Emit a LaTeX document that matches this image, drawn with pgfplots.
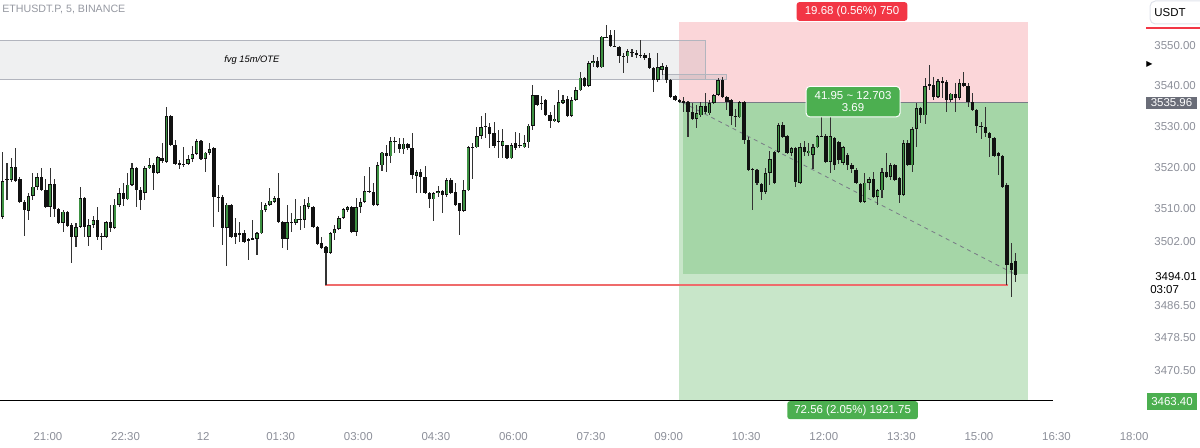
\documentclass[border=0pt]{standalone}
\usepackage{fontspec}
\setmainfont{Liberation Sans}
\newfontfamily\dejavu{DejaVu Sans}
\usepackage{pgfplots}
\usepackage{pgfplotstable}
\pgfplotsset{compat=1.18}
\definecolor{upc}{HTML}{3D9142}
\definecolor{wick}{HTML}{333333}
\definecolor{bodyc}{HTML}{111111}
\definecolor{stopzone}{HTML}{FBD6D9}
\definecolor{tpzone}{HTML}{C8E6C9}
\definecolor{tpfill}{HTML}{A5D6A7}
\definecolor{tvred}{HTML}{F23645}
\definecolor{tvgreen}{HTML}{4CAF50}
\definecolor{tvgray}{HTML}{787B86}
\definecolor{scaletext}{HTML}{8C8F99}
\definecolor{fvgborder}{HTML}{B2B5BE}
\definecolor{fvgfill}{HTML}{9598A1}
\definecolor{hline}{HTML}{EF6B6B}
\definecolor{pricebox}{HTML}{6A6D78}
\definecolor{boxborder}{HTML}{E0E3EB}
\newcommand{\lab}{\fontsize{8.6}{10}\selectfont}

\pgfplotstableread{
k o h l c
1 3508.1 3523.9 3507.6 3516.8
2 3517.3 3521.2 3512.2 3517.2
3 3517.1 3522.4 3516.6 3520.2
4 3520.2 3524.9 3516.6 3516.8
5 3517.3 3517.8 3511.5 3511.7
6 3511.7 3512.2 3503.4 3509.8
7 3509.5 3513.9 3507.3 3513.2
8 3513.2 3518.8 3512.2 3515.4
9 3515.4 3518.8 3514.6 3517.8
10 3517.8 3520.0 3514.4 3514.6
11 3514.6 3517.3 3510.2 3510.5
12 3510.5 3520.0 3508.1 3516.1
13 3516.1 3517.3 3508.1 3510.0
14 3510.0 3510.2 3506.3 3506.6
15 3506.6 3509.8 3504.4 3509.3
16 3509.3 3509.5 3505.6 3505.9
17 3506.1 3506.6 3496.8 3503.2
18 3503.2 3506.6 3500.7 3505.6
19 3505.6 3515.4 3505.4 3512.7
20 3512.7 3512.9 3503.2 3505.6
21 3503.2 3507.6 3501.0 3506.1
22 3506.1 3508.3 3505.4 3507.3
23 3507.3 3510.5 3502.4 3503.2
24 3503.4 3504.1 3500.0 3503.2
25 3503.2 3507.1 3502.9 3506.8
26 3506.8 3511.0 3504.4 3505.4
27 3505.4 3512.4 3505.1 3511.0
28 3511.0 3515.1 3510.5 3513.9
29 3513.9 3516.4 3510.7 3512.4
30 3512.4 3518.8 3512.2 3515.9
31 3515.9 3521.2 3515.6 3520.0
32 3520.0 3520.2 3510.5 3514.6
33 3514.6 3515.4 3509.8 3512.2
34 3513.9 3520.5 3512.2 3520.0
35 3520.0 3522.4 3519.8 3520.7
36 3520.7 3521.2 3514.6 3518.8
37 3518.8 3522.9 3518.5 3522.7
38 3522.4 3526.1 3521.2 3521.7
39 3521.5 3534.9 3521.2 3532.7
40 3532.7 3532.9 3525.4 3525.6
41 3525.6 3526.8 3520.7 3521.0
42 3521.2 3522.0 3519.8 3521.0
43 3521.0 3525.1 3520.2 3520.8
44 3521.0 3523.2 3520.7 3522.2
45 3522.2 3525.4 3521.5 3523.4
46 3523.4 3527.1 3523.2 3526.6
47 3526.6 3526.8 3522.0 3522.2
48 3522.2 3523.9 3519.0 3523.7
49 3523.7 3526.1 3523.2 3524.6
50 3524.9 3525.1 3505.6 3512.9
51 3512.9 3515.9 3509.3 3512.8
52 3512.9 3513.4 3501.2 3505.4
53 3505.4 3511.5 3496.1 3511.0
54 3511.0 3511.2 3502.9 3503.2
55 3504.1 3507.8 3501.5 3503.2
56 3503.9 3506.8 3502.0 3504.1
57 3504.1 3504.9 3501.7 3502.0
58 3502.7 3502.9 3497.6 3502.4
59 3502.7 3507.3 3502.4 3502.9
60 3502.7 3504.4 3498.8 3504.1
61 3504.1 3511.7 3503.9 3509.8
62 3509.8 3511.5 3509.3 3511.0
63 3511.0 3515.1 3510.7 3512.0
64 3511.7 3513.2 3511.5 3512.7
65 3512.7 3518.8 3506.6 3506.8
66 3506.8 3507.1 3500.5 3502.7
67 3502.7 3511.0 3500.0 3506.8
68 3506.8 3509.0 3504.4 3506.7
69 3506.6 3512.4 3506.1 3507.6
70 3507.6 3510.7 3504.9 3507.4
71 3507.3 3512.4 3505.4 3511.0
72 3510.5 3512.9 3510.0 3511.5
73 3510.5 3510.7 3505.4 3505.6
74 3505.6 3505.9 3501.2 3501.5
75 3501.7 3503.2 3500.2 3500.5
76 3500.7 3501.0 3491.5 3499.3
77 3499.3 3504.4 3499.0 3504.1
78 3504.1 3506.1 3502.4 3505.1
79 3505.1 3508.3 3504.9 3507.8
80 3507.8 3510.2 3507.6 3510.0
81 3509.8 3510.7 3509.3 3510.5
82 3510.5 3510.7 3504.1 3504.4
83 3504.4 3512.7 3503.4 3510.5
84 3510.5 3512.7 3509.0 3511.7
85 3511.7 3518.1 3511.5 3514.4
86 3514.4 3520.2 3513.9 3514.2
87 3514.2 3516.4 3510.7 3511.0
88 3511.0 3521.5 3510.7 3520.7
89 3520.7 3523.9 3519.3 3523.7
90 3523.7 3525.6 3519.0 3522.9
91 3522.9 3527.6 3521.2 3526.6
92 3526.6 3527.6 3523.7 3526.5
93 3525.9 3527.3 3523.7 3524.6
94 3524.6 3527.3 3523.4 3525.9
95 3525.9 3526.1 3524.4 3524.9
96 3524.9 3528.5 3517.3 3518.3
97 3518.1 3519.5 3513.9 3519.0
98 3519.0 3519.8 3513.9 3517.8
99 3517.8 3520.5 3513.7 3513.9
100 3513.9 3514.2 3510.2 3512.4
101 3512.4 3514.2 3507.1 3513.9
102 3513.9 3515.6 3512.9 3514.4
103 3514.4 3514.6 3509.0 3513.4
104 3513.4 3517.6 3512.9 3517.1
105 3517.1 3517.6 3513.7 3513.9
106 3514.2 3516.4 3510.7 3511.0
107 3511.5 3511.5 3503.7 3509.5
108 3509.5 3517.1 3509.3 3514.6
109 3514.6 3525.4 3514.4 3525.1
110 3525.1 3526.1 3517.3 3525.0
111 3525.1 3530.0 3524.9 3527.8
112 3527.8 3532.7 3527.1 3530.0
113 3530.3 3533.4 3527.3 3530.1
114 3530.0 3531.0 3524.9 3528.3
115 3528.5 3531.2 3524.9 3525.4
116 3526.6 3529.3 3522.4 3526.5
117 3525.4 3529.5 3522.4 3526.6
118 3525.6 3525.6 3522.2 3522.4
119 3522.4 3526.1 3522.2 3525.6
120 3526.1 3528.8 3524.4 3524.9
121 3525.6 3528.5 3524.9 3525.5
122 3525.1 3528.0 3524.9 3526.1
123 3526.3 3530.7 3524.9 3530.3
124 3530.3 3540.2 3529.3 3537.8
125 3537.8 3537.8 3535.1 3535.4
126 3535.9 3537.6 3534.1 3535.7
127 3536.6 3536.8 3532.7 3532.9
128 3532.9 3533.7 3529.8 3531.5
129 3531.5 3535.4 3531.2 3532.0
130 3531.2 3539.0 3531.0 3536.1
131 3535.9 3537.8 3535.6 3536.6
132 3536.8 3537.6 3532.4 3532.7
133 3532.7 3537.3 3532.4 3536.6
134 3536.6 3539.8 3536.3 3539.0
135 3539.0 3543.4 3538.8 3542.0
136 3542.0 3542.2 3539.8 3540.0
137 3540.0 3546.1 3539.8 3545.6
138 3545.6 3547.6 3544.6 3546.1
139 3546.1 3547.1 3544.4 3544.6
140 3544.6 3552.2 3544.4 3552.0
141 3552.0 3554.9 3551.7 3551.8
142 3552.4 3553.7 3549.5 3549.8
143 3549.8 3553.7 3549.5 3549.6
144 3549.5 3549.8 3545.6 3547.3
145 3547.3 3548.0 3543.2 3547.2
146 3547.3 3549.0 3545.6 3548.5
147 3548.2 3549.0 3547.1 3548.3
148 3548.0 3548.8 3546.8 3547.6
149 3547.6 3551.2 3546.8 3547.4
150 3547.6 3548.0 3546.3 3546.8
151 3546.8 3548.0 3544.1 3544.4
152 3544.4 3544.6 3538.5 3541.5
153 3541.5 3548.0 3541.0 3544.6
154 3543.9 3545.6 3542.7 3544.9
155 3544.6 3545.1 3540.7 3541.5
156 3541.5 3541.7 3537.2 3537.3
157 3537.6 3537.8 3536.3 3536.6
158 3536.6 3536.8 3535.9 3536.1
159 3536.3 3537.3 3533.7 3535.9
160 3536.1 3536.3 3527.6 3533.7
161 3533.7 3535.9 3531.7 3532.0
162 3532.0 3535.4 3529.8 3533.4
163 3532.9 3536.1 3532.4 3535.1
164 3535.1 3538.3 3533.2 3533.7
165 3533.4 3536.6 3532.9 3535.9
166 3535.9 3538.1 3535.6 3537.8
167 3537.8 3542.0 3537.6 3541.5
168 3541.5 3542.2 3537.1 3537.3
169 3537.3 3537.6 3534.1 3536.1
170 3536.6 3536.8 3530.5 3532.7
171 3532.7 3534.4 3530.0 3532.6
172 3532.4 3536.3 3532.2 3536.1
173 3536.1 3536.3 3525.9 3526.8
174 3526.8 3527.6 3519.3 3519.5
175 3519.8 3520.0 3509.8 3519.5
176 3519.5 3519.8 3515.9 3516.4
177 3516.1 3516.4 3512.2 3514.2
178 3514.2 3520.0 3513.7 3518.8
179 3518.8 3524.2 3515.9 3522.2
180 3523.9 3524.2 3516.1 3516.4
181 3523.9 3531.0 3523.7 3530.5
182 3530.5 3531.2 3527.3 3527.6
183 3527.8 3528.0 3523.4 3523.7
184 3523.7 3525.1 3523.0 3524.9
185 3524.9 3525.1 3515.4 3516.6
186 3516.4 3526.1 3516.1 3525.1
187 3525.1 3526.6 3523.0 3523.9
188 3523.7 3526.1 3523.0 3524.2
189 3523.2 3525.9 3519.8 3525.1
190 3525.1 3528.0 3524.9 3527.8
191 3527.8 3533.7 3527.6 3527.7
192 3527.8 3528.3 3521.2 3521.5
193 3521.5 3534.9 3518.8 3527.8
194 3527.3 3527.6 3519.5 3520.7
195 3526.3 3526.6 3521.0 3522.0
196 3521.2 3525.4 3520.7 3525.1
197 3523.2 3523.7 3519.5 3520.7
198 3520.7 3521.2 3518.8 3519.8
199 3519.5 3520.0 3516.1 3516.4
200 3516.1 3516.4 3511.5 3511.7
201 3511.7 3518.8 3511.5 3516.4
202 3516.4 3517.8 3514.6 3517.3
203 3517.3 3519.0 3512.7 3512.9
204 3512.9 3514.9 3511.0 3514.6
205 3514.6 3520.0 3512.7 3519.0
206 3519.0 3523.7 3517.6 3517.8
207 3517.8 3521.2 3517.1 3520.7
208 3520.7 3521.0 3516.8 3517.1
209 3517.6 3517.8 3511.5 3513.4
210 3513.4 3526.8 3513.2 3526.1
211 3526.1 3526.8 3520.5 3520.7
212 3520.7 3530.0 3519.0 3529.5
213 3529.5 3535.9 3525.1 3534.6
214 3534.6 3534.9 3531.0 3532.9
215 3532.9 3542.0 3530.7 3540.0
216 3540.5 3545.1 3539.0 3540.0
217 3540.2 3542.2 3536.6 3537.3
218 3537.3 3541.7 3537.1 3541.2
219 3541.2 3542.2 3537.1 3541.0
220 3541.0 3541.5 3533.7 3536.6
221 3536.6 3538.3 3536.1 3538.1
222 3538.1 3540.7 3533.7 3537.1
223 3537.1 3541.7 3536.6 3540.7
224 3540.7 3543.4 3539.8 3540.0
225 3540.0 3540.7 3534.9 3536.1
226 3536.1 3538.3 3533.9 3534.1
227 3534.1 3534.4 3528.5 3530.3
228 3530.3 3531.2 3527.1 3530.0
229 3530.0 3534.9 3527.6 3528.5
230 3528.5 3528.8 3522.7 3527.3
231 3527.3 3527.6 3522.7 3522.9
232 3523.7 3523.9 3518.3 3522.9
233 3522.9 3523.2 3515.1 3515.4
234 3515.9 3516.4 3491.5 3496.3
235 3496.8 3501.7 3488.6 3495.1
236 3497.3 3499.3 3492.2 3494.01
}\candles

\begin{document}
\begin{tikzpicture}
\path[use as bounding box] (0pt,0pt) rectangle (900pt,335.25pt);
\begin{axis}[
  at={(0pt,335.25pt)}, anchor=north west,
  scale only axis, width=850.9pt, height=315pt,
  xmin=0.37, xmax=263.6, ymin=3458.5, ymax=3561,
  clip=false,
  axis line style={draw=none},
  major tick length=0pt,
  tick label style={font=\lab, text=scaletext},
  xtick={11.5,29.5,47.5,65.5,83.5,101.5,119.5,137.5,155.5,173.5,191.5,209.5,227.5,245.5,263.5},
  xticklabels={21:00,22:30,12,01:30,03:00,04:30,06:00,07:30,09:00,10:30,12:00,13:30,15:00,16:30,18:00},
  xticklabel style={yshift=-6pt},
  ytick={3470.5,3478.5,3486.5,3502,3510,3520,3530,3540,3550},
  yticklabels={3470.50,3478.50,3486.50,3502.00,3510.00,3520.00,3530.00,3540.00,3550.00},
  yticklabel pos=right,
  yticklabel style={anchor=east, xshift=49.5pt},
]
% position tool zones
\fill[stopzone] (axis cs:157.9,3535.96) rectangle (axis cs:238.9,3555.64);
\fill[tpzone] (axis cs:157.9,3463.4) rectangle (axis cs:238.9,3535.96);
\fill[tpfill] (axis cs:158.8,3494.01) rectangle (axis cs:238.9,3535.96);
\draw[tvgray, line width=0.6pt] (axis cs:157.9,3535.96) -- (axis cs:238.9,3535.96);
% FVG boxes
\filldraw[fill=fvgfill, fill opacity=0.15, draw=fvgborder, line width=0.75pt] (axis cs:0.1,3551.2) rectangle (axis cs:163.95,3541.5);
\filldraw[fill=fvgfill, fill opacity=0.15, draw=fvgborder, line width=0.75pt] (axis cs:154.0,3542.7) rectangle (axis cs:169.0,3541.5);
\node[font=\itshape\fontsize{7}{8}\selectfont, text=black] at (axis cs:58.8,3546.35) {fvg 15m/OTE};
% lines
\draw[hline, line width=1.1pt] (axis cs:75.78,3491.5) -- (axis cs:234.25,3491.5);
\draw[black, line width=1.1pt] (axis cs:0.37,3463.2) -- (axis cs:244.7,3463.2);
\draw[tvgray, line width=0.6pt, dash pattern=on 3pt off 3pt] (axis cs:158.8,3535.96) -- (axis cs:236,3494.01);
% candles: wicks
\addplot[draw=none, no markers, forget plot,
  error bars/.cd, y dir=both, y explicit, error mark=none,
  error bar style={draw=wick, line width=0.8pt, solid, line cap=butt}]
  table[x=k, y expr={(\thisrow{h}+\thisrow{l})/2}, y error expr={(\thisrow{h}-\thisrow{l})/2}] {\candles};
% bodies
\addplot[draw=none, no markers, forget plot,
  error bars/.cd, y dir=both, y explicit, error mark=none,
  error bar style={draw=bodyc, line width=2.55pt, solid, line cap=butt}]
  table[x=k, y expr={(\thisrow{o}+\thisrow{c})/2}, y error expr={max(abs(\thisrow{c}-\thisrow{o})/2,0.14)}] {\candles};
% green interiors of rising candles
\addplot[draw=none, no markers, forget plot,
  error bars/.cd, y dir=both, y explicit, error mark=none,
  error bar style={draw=upc, line width=1.35pt, solid, line cap=butt}]
  table[x=k, y expr={(\thisrow{o}+\thisrow{c})/2}, y error expr={max((\thisrow{c}-\thisrow{o})/2-0.15,0)}] {\candles};
% labels
\node[fill=tvred, text=white, rounded corners=2pt, minimum width=83pt, minimum height=14pt, inner sep=0pt, font=\lab] at (axis cs:198.05,3558.2) {19.68 (0.56\%) 750};
\node[fill=tvgreen, draw=white, line width=0.75pt, text=white, rounded corners=3pt, minimum width=70.5pt, minimum height=23pt, inner sep=0pt, align=center, font=\lab] at (axis cs:198.3,3536.2) {41.95 \textasciitilde{} 12.703\\[-1pt]3.69};
\node[fill=tvgreen, text=white, rounded corners=2pt, minimum width=98pt, minimum height=13.5pt, inner sep=0pt, font=\lab] at (axis cs:198.2,3460.9) {72.56 (2.05\%) 1921.75};
\end{axis}
\begin{scope}[x=0.75pt, y=-0.75pt, shift={(0pt,335.25pt)}]
\node[anchor=west, text=fvgfill, font=\fontsize{8}{9}\selectfont, inner sep=0pt] at (2,9) {ETHUSDT.P, 5, BINANCE};
\node[fill=pricebox, text=white, inner sep=0pt, minimum width=38.25pt, minimum height=9.5pt, font=\lab] at (1171.5,103) {3535.96};
\node[anchor=east, font=\lab, inner sep=0pt, text=black] at (1197,277) {3494.01};
\node[anchor=west, font=\lab, inner sep=0pt, text=black] at (1150,290) {03:07};
\node[fill=tvgreen, text=white, inner sep=0pt, minimum width=37.5pt, minimum height=12.75pt, font=\lab] at (1172,401.5) {3463.40};
\draw[boxborder, line width=0.75pt, rounded corners=4pt] (1150,1) rectangle (1215,24);
\node[font=\lab, text=black] at (1170,12.5) {USDT};
\draw[tvred, line width=1.2pt] (1146,28.3) -- (1200,28.3);
\node[font=\dejavu\fontsize{6}{7}\selectfont, inner sep=0pt, text=black] at (1149.5,64) {▶};
\end{scope}
\end{tikzpicture}
\end{document}
